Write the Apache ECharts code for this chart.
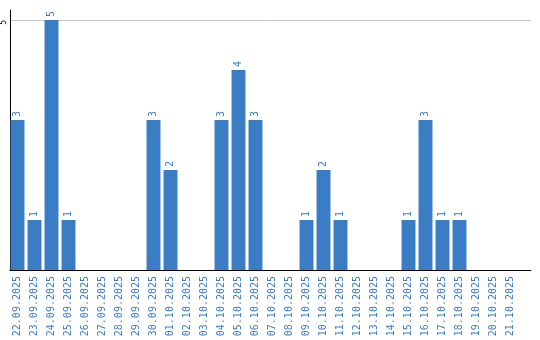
<!DOCTYPE html>
<html><head><meta charset="utf-8">
<script src="https://cdn.jsdelivr.net/npm/echarts@6/dist/echarts.min.js"></script>
<style>html,body{margin:0;padding:0;background:#fff}#c{width:540px;height:340px}</style>
</head><body><div id="c"></div>
<script>
const categories = ["22.09.2025","23.09.2025","24.09.2025","25.09.2025","26.09.2025","27.09.2025","28.09.2025","29.09.2025","30.09.2025","01.10.2025","02.10.2025","03.10.2025","04.10.2025","05.10.2025","06.10.2025","07.10.2025","08.10.2025","09.10.2025","10.10.2025","11.10.2025","12.10.2025","13.10.2025","14.10.2025","15.10.2025","16.10.2025","17.10.2025","18.10.2025","19.10.2025","20.10.2025","21.10.2025"];
const values = [3,1,5,1,0,0,0,0,3,2,0,0,3,4,3,0,0,1,2,1,0,0,0,1,3,1,1,0,0,0];
const yTicks = [0,5];
const blue = '#3b7dc4';
const font = 'DejaVu Sans Mono';
const chart = echarts.init(document.getElementById('c'));
const hiddenX = (g)=>({type:'value',gridIndex:g,min:0,max:1,show:false});
chart.setOption({
  animation:false,
  grid:[
    {left:10,right:9,top:10,bottom:70},
    {left:10,right:9,top:20,bottom:70},
    {left:9,right:21,top:20,bottom:70}
  ],
  xAxis:[
    {type:'value',gridIndex:0,min:0,max:1,axisLine:{show:true,onZero:false,lineStyle:{color:'#000',width:1}},
      axisTick:{show:false},axisLabel:{show:false},splitLine:{show:false}},
    hiddenX(1),
    {type:'category',gridIndex:2,data:categories,
      axisLine:{show:false},axisTick:{show:false},
      axisLabel:{rotate:90,interval:0,color:blue,fontFamily:font,fontSize:10,margin:6}}
  ],
  yAxis:[
    {type:'value',gridIndex:0,min:0,max:1,
      axisLine:{show:true,lineStyle:{color:'#000',width:1}},axisTick:{show:false},
      axisLabel:{show:false},splitLine:{show:false}},
    {type:'value',gridIndex:1,min:yTicks[0],max:yTicks[1],interval:5,
      axisLine:{show:false},axisTick:{show:false},
      splitLine:{lineStyle:{color:'#c8c8c8'}},
      axisLabel:{rotate:90,color:'#000',fontFamily:font,fontSize:8,margin:2,align:'right',verticalAlign:'bottom',
        formatter:v=>v===0?'':String(v)}},
    {type:'value',gridIndex:2,min:yTicks[0],max:yTicks[1],show:false,splitLine:{show:false}}
  ],
  series:[{type:'bar',xAxisIndex:2,yAxisIndex:2,data:values,barCategoryGap:'18%',
    itemStyle:{color:blue},
    label:{show:true,position:'top',rotate:90,align:'left',verticalAlign:'middle',distance:3,
      color:blue,fontFamily:font,fontSize:10,formatter:p=>p.value>0?String(p.value):''}}]
});
</script></body></html>
